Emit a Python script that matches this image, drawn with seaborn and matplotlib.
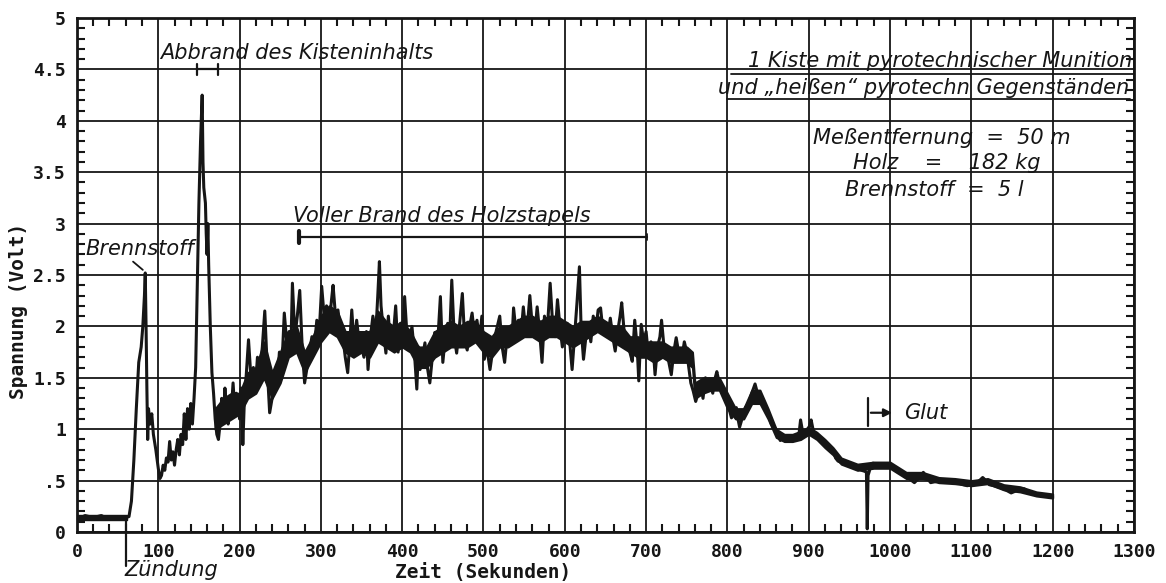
import matplotlib
matplotlib.use("Agg")
import matplotlib.pyplot as plt
import seaborn as sns
import pandas as pd
from matplotlib.ticker import MultipleLocator

# ---------------- data ----------------
time_s = [0, 5, 10, 15, 20, 25, 30, 35, 40, 45, 50, 55, 60, 64, 67, 70, 73, 76, 79, 81, 83, 84, 85, 86, 87, 88,
          90, 92, 94, 97, 100, 102, 104, 106, 108, 110, 112, 114, 116, 118, 120, 122, 124, 126, 128, 130, 132,
          134, 136, 138, 140, 142, 144, 146, 148, 150, 152, 154, 155, 156, 158, 159, 160, 161, 162, 164, 166,
          168, 170, 172, 174, 176, 178, 180, 182, 184, 186, 188, 190, 192, 194, 196, 198, 200, 202, 204, 206,
          208, 211, 214, 217, 219, 222, 225, 228, 231, 234, 237, 240, 243, 246, 249, 252, 255, 258, 261, 263,
          265, 268, 271, 274, 277, 280, 283, 286, 289, 292, 295, 298, 301, 304, 307, 310, 313, 315, 318, 321,
          324, 327, 330, 333, 336, 338, 341, 344, 347, 350, 353, 356, 358, 361, 364, 367, 370, 372, 374, 377,
          380, 383, 386, 389, 392, 395, 398, 400, 403, 406, 409, 412, 415, 418, 420, 422, 425, 428, 431, 434,
          437, 440, 443, 447, 450, 453, 456, 458, 461, 464, 467, 470, 474, 477, 480, 483, 486, 489, 492, 495,
          498, 501, 504, 508, 511, 514, 517, 520, 523, 526, 529, 532, 535, 537, 540, 543, 546, 549, 552, 555,
          557, 560, 563, 566, 569, 572, 575, 578, 582, 585, 588, 591, 594, 597, 600, 603, 606, 609, 612, 615,
          618, 620, 623, 626, 629, 632, 635, 638, 641, 644, 647, 650, 653, 656, 659, 662, 665, 668, 670, 673,
          676, 680, 683, 686, 689, 691, 694, 697, 700, 703, 706, 709, 711, 714, 717, 719, 722, 725, 728, 731,
          734, 737, 740, 744, 747, 750, 752, 755, 758, 761, 764, 767, 770, 773, 776, 779, 782, 785, 787, 790,
          793, 796, 799, 802, 805, 808, 811, 813, 815, 818, 822, 826, 830, 834, 837, 840, 843, 846, 850, 854,
          858, 862, 865, 869, 873, 877, 880, 884, 888, 890, 893, 897, 901, 903, 906, 910, 914, 917, 921, 925,
          930, 933, 936, 942, 948, 955, 960, 965, 969, 971, 972, 973, 976, 979, 985, 990, 995, 1000, 1006,
          1012, 1018, 1025, 1030, 1035, 1041, 1046, 1050, 1056, 1062, 1068, 1074, 1080, 1083, 1090, 1095,
          1100, 1105, 1110, 1114, 1118, 1122, 1128, 1136, 1142, 1149, 1155, 1160, 1165, 1169, 1175, 1180,
          1185, 1190, 1195, 1200]
voltage_v = [0.15, 0.14, 0.16, 0.15, 0.14, 0.15, 0.16, 0.14, 0.15, 0.15, 0.14, 0.15, 0.14, 0.15, 0.3, 0.7, 1.2,
             1.65, 1.8, 2.0, 2.3, 2.52, 2.0, 1.4, 0.9, 1.2, 1.05, 1.15, 0.95, 0.8, 0.62, 0.52, 0.55, 0.65, 0.6,
             0.72, 0.68, 0.88, 0.7, 0.78, 0.65, 0.8, 0.9, 0.75, 0.95, 0.85, 1.15, 0.9, 1.2, 1.0, 1.25, 1.05, 1.3,
             1.6, 2.4, 3.2, 3.8, 4.25, 3.6, 3.35, 3.2, 2.9, 2.7, 3.0, 2.6, 2.0, 1.55, 1.35, 1.1, 0.95, 0.9, 1.05,
             1.3, 1.1, 1.4, 1.15, 1.05, 1.3, 1.2, 1.45, 1.2, 1.35, 1.25, 1.1, 1.4, 0.85, 1.3, 1.5, 1.87, 1.5,
             1.6, 1.35, 1.7, 1.55, 1.8, 2.15, 1.6, 1.16, 1.3, 1.52, 1.4, 1.75, 1.6, 2.13, 1.85, 1.95, 1.75, 2.42,
             1.9, 2.1, 2.35, 1.8, 1.45, 1.6, 1.75, 1.9, 1.8, 2.06, 1.95, 2.39, 2.1, 2.2, 2.0, 2.25, 2.4, 2.1,
             2.16, 1.95, 1.9, 1.7, 1.55, 1.9, 2.16, 1.8, 2.06, 1.85, 1.8, 1.7, 1.95, 1.58, 1.9, 2.1, 1.85, 2.3,
             2.63, 2.2, 1.95, 1.74, 2.1, 1.8, 1.9, 2.2, 1.75, 2.03, 1.8, 2.29, 1.9, 1.84, 2.0, 1.75, 1.39, 1.8,
             1.58, 1.7, 1.84, 1.6, 1.45, 1.7, 1.94, 1.75, 2.29, 1.65, 1.9, 2.03, 1.8, 2.45, 1.9, 1.74, 1.97,
             2.32, 1.85, 1.77, 2.0, 2.13, 1.9, 2.06, 1.85, 2.1, 1.68, 1.8, 1.58, 1.75, 1.9, 2.0, 2.1, 1.8, 1.65,
             1.9, 1.97, 1.85, 2.18, 1.95, 2.06, 1.9, 2.19, 1.95, 2.1, 2.3, 2.0, 1.9, 2.19, 1.95, 1.65, 2.1, 1.9,
             2.42, 2.03, 1.9, 2.26, 2.0, 1.8, 1.95, 2.03, 1.85, 1.58, 1.9, 2.23, 2.58, 2.0, 1.68, 1.9, 2.03,
             1.85, 2.1, 1.95, 2.16, 2.18, 1.95, 2.03, 1.92, 2.08, 1.9, 1.76, 1.95, 2.1, 2.23, 1.95, 1.85, 1.75,
             1.66, 2.06, 1.8, 1.47, 2.02, 1.85, 1.95, 1.7, 1.85, 1.76, 1.53, 1.8, 1.9, 2.06, 1.8, 1.79, 1.65,
             1.53, 1.75, 1.89, 1.75, 1.69, 1.85, 1.75, 1.63, 1.45, 1.37, 1.27, 1.35, 1.44, 1.3, 1.5, 1.4, 1.45,
             1.35, 1.5, 1.56, 1.45, 1.4, 1.35, 1.27, 1.2, 1.11, 1.15, 1.21, 1.1, 1.02, 1.1, 1.21, 1.25, 1.35,
             1.44, 1.35, 1.27, 1.3, 1.2, 1.15, 1.05, 1.02, 0.95, 0.89, 0.92, 0.88, 0.93, 0.9, 0.92, 0.95, 1.09,
             0.95, 0.98, 1.03, 1.09, 0.97, 0.93, 0.9, 0.87, 0.85, 0.83, 0.8, 0.72, 0.69, 0.67, 0.66, 0.64, 0.62,
             0.6, 0.59, 0.58, 0.03, 0.55, 0.63, 0.67, 0.65, 0.64, 0.66, 0.66, 0.62, 0.58, 0.55, 0.51, 0.48, 0.52,
             0.58, 0.52, 0.48, 0.49, 0.5, 0.49, 0.51, 0.49, 0.48, 0.46, 0.45, 0.46, 0.47, 0.5, 0.53, 0.5, 0.46,
             0.45, 0.43, 0.41, 0.38, 0.4, 0.41, 0.42, 0.4, 0.37, 0.36, 0.36, 0.35, 0.35, 0.34]

# dense core of the noisy trace (lower / upper edge of the dark band)
band_time = [170, 180, 190, 200, 210, 220, 230, 240, 250, 260, 270, 280, 290, 300, 310, 320, 330, 340, 350,
             360, 370, 380, 390, 400, 410, 420, 430, 440, 450, 460, 470, 480, 490, 500, 510, 520, 530, 540,
             550, 560, 570, 580, 590, 600, 610, 620, 630, 640, 650, 660, 670, 680, 690, 700, 710, 720, 730,
             740, 750, 757, 760, 770, 780, 790, 800, 810, 820, 830, 840, 850, 860, 870, 880, 890, 900, 910,
             920, 930, 940, 960, 980, 1000, 1020, 1040, 1060, 1080, 1100, 1120, 1140, 1160, 1180, 1200]
band_low = [1.0, 1.05, 1.1, 1.15, 1.3, 1.35, 1.5, 1.3, 1.45, 1.7, 1.75, 1.55, 1.7, 1.85, 1.95, 1.9, 1.75,
            1.7, 1.75, 1.7, 1.85, 1.8, 1.75, 1.8, 1.75, 1.6, 1.6, 1.7, 1.75, 1.8, 1.8, 1.8, 1.85, 1.75, 1.7,
            1.8, 1.8, 1.85, 1.9, 1.9, 1.85, 1.9, 1.9, 1.85, 1.8, 1.85, 1.9, 1.95, 1.9, 1.85, 1.8, 1.75, 1.7,
            1.7, 1.65, 1.7, 1.65, 1.65, 1.65, 1.6, 1.3, 1.35, 1.38, 1.38, 1.2, 1.1, 1.1, 1.25, 1.25, 1.1, 0.92,
            0.88, 0.88, 0.9, 0.95, 0.9, 0.82, 0.75, 0.66, 0.6, 0.62, 0.62, 0.52, 0.52, 0.48, 0.47, 0.45, 0.47,
            0.41, 0.39, 0.35, 0.33]
band_high = [1.2, 1.3, 1.35, 1.35, 1.55, 1.6, 1.85, 1.55, 1.75, 1.95, 2.0, 1.75, 1.9, 2.1, 2.2, 2.15, 1.95,
             1.95, 1.95, 1.95, 2.15, 2.05, 2.0, 2.05, 1.95, 1.8, 1.8, 1.95, 2.0, 2.05, 2.0, 2.05, 2.05, 1.95,
             1.9, 2.0, 2.0, 2.05, 2.1, 2.1, 2.05, 2.1, 2.1, 2.05, 2.0, 2.05, 2.05, 2.1, 2.05, 2.0, 2.0, 1.9,
             1.9, 1.85, 1.85, 1.85, 1.8, 1.8, 1.8, 1.75, 1.45, 1.5, 1.5, 1.5, 1.35, 1.2, 1.2, 1.38, 1.38, 1.2,
             1.0, 0.95, 0.95, 0.98, 1.02, 0.97, 0.9, 0.82, 0.72, 0.66, 0.68, 0.68, 0.58, 0.58, 0.53, 0.52, 0.5,
             0.52, 0.46, 0.44, 0.39, 0.37]
base_time = [0, 62]
base_low = [0.12, 0.12]
base_high = [0.17, 0.17]

x_ticks = list(range(0, 1301, 100))
x_tick_labels = [str(v) for v in x_ticks]
y_ticks = [0, 0.5, 1, 1.5, 2, 2.5, 3, 3.5, 4, 4.5, 5]
y_tick_labels = ["0", ".5", "1", "1.5", "2", "2.5", "3", "3.5", "4", "4.5", "5"]

# ---------------- style ----------------
sns.set_style("white")
plt.rcParams["font.family"] = ["DejaVu Sans"]

INK = "#161616"
fig = plt.figure(figsize=(11.66, 5.83), dpi=100)
ax = fig.add_axes([0.066, 0.0875, 0.9065, 0.8816])

df = pd.DataFrame({"Zeit": time_s, "Spannung": voltage_v})
sns.lineplot(data=df, x="Zeit", y="Spannung", ax=ax, color=INK, linewidth=2.2,
             estimator=None, sort=False, zorder=3)
ax.fill_between(band_time, band_low, band_high, color=INK, linewidth=1.5, edgecolor=INK, zorder=3)
ax.fill_between(base_time, base_low, base_high, color=INK, linewidth=1.0, edgecolor=INK, zorder=3)

ax.set_xlim(0, 1300)
ax.set_ylim(0, 5)
ax.set_xticks(x_ticks)
ax.set_xticklabels(x_tick_labels)
ax.set_yticks(y_ticks)
ax.set_yticklabels(y_tick_labels)
ax.xaxis.set_minor_locator(MultipleLocator(20))
ax.yaxis.set_minor_locator(MultipleLocator(0.1))

for lab in ax.get_xticklabels() + ax.get_yticklabels():
    lab.set_fontfamily("DejaVu Sans Mono")
    lab.set_fontweight("bold")
    lab.set_fontsize(13)
    lab.set_color(INK)

ax.tick_params(which="major", direction="in", length=0, pad=8,
               top=True, right=True, bottom=True, left=True)
ax.tick_params(which="minor", direction="in", length=6, width=1.5, color=INK,
               top=True, right=True, bottom=True, left=True)

ax.grid(True, which="major", color=INK, linewidth=1.3)
for sp in ax.spines.values():
    sp.set_color(INK)
    sp.set_linewidth(2)

ax.set_xlabel("Zeit (Sekunden)", fontfamily="DejaVu Sans Mono", fontweight="bold",
              fontsize=14, color=INK, va="center")
ax.set_ylabel("Spannung (Volt)", fontfamily="DejaVu Sans Mono", fontweight="bold",
              fontsize=14, color=INK, va="center")
ax.xaxis.set_label_coords(0.384, -0.078)
ax.yaxis.set_label_coords(-0.055, 0.43)

# ---------------- annotations ----------------
ann = dict(fontstyle="italic", fontsize=15, color=INK, zorder=5)

ax.text(102, 4.66, "Abbrand des Kisteninhalts", ha="left", va="center", **ann)
ax.plot([148, 174], [4.5, 4.5], color=INK, lw=1.6, zorder=4)
ax.plot([148, 148], [4.45, 4.55], color=INK, lw=1.6, zorder=4)
ax.plot([174, 174], [4.45, 4.55], color=INK, lw=1.6, zorder=4)

ax.text(10, 2.75, "Brennstoff", ha="left", va="center", **ann)
ax.plot([69, 81], [2.63, 2.55], color=INK, lw=1.3, zorder=4)

ax.text(266, 3.07, "Voller Brand des Holzstapels", ha="left", va="center", **ann)
ax.plot([273, 701], [2.87, 2.87], color=INK, lw=1.6, zorder=4)
ax.plot([273, 273], [2.81, 2.93], color=INK, lw=3, zorder=4)
ax.plot([701, 701], [2.84, 2.9], color=INK, lw=1.3, zorder=4)

ax.text(1017, 1.16, "Glut", ha="left", va="center", **ann)
ax.plot([973, 973], [1.03, 1.3], color=INK, lw=1.6, zorder=4)
ax.annotate("", xy=(1006, 1.16), xytext=(973, 1.16),
            arrowprops=dict(arrowstyle="-|>", color=INK, lw=1.6, mutation_scale=12), zorder=4)

ax.text(59, -0.37, "Zündung", ha="left", va="center", clip_on=False, **ann)
ax.plot([60, 60], [0.14, -0.33], color=INK, lw=1.6, clip_on=False, zorder=4)

ax.text(1298, 4.58, "1 Kiste mit pyrotechnischer Munition", ha="right", va="center", **ann)
ax.plot([805, 1300], [4.46, 4.46], color=INK, lw=1.3, zorder=4)
ax.text(1294, 4.32, "und „heißen“ pyrotechn Gegenständen", ha="right", va="center", **ann)
ax.plot([800, 1295], [4.21, 4.21], color=INK, lw=1.3, zorder=4)

ax.text(905, 3.83, "Meßentfernung  =  50 m", ha="left", va="center", **ann)
ax.text(955, 3.59, "Holz    =    182 kg", ha="left", va="center", **ann)
ax.text(945, 3.33, "Brennstoff  =  5 l", ha="left", va="center", **ann)

fig.savefig("out.png", dpi=100, facecolor="white")
